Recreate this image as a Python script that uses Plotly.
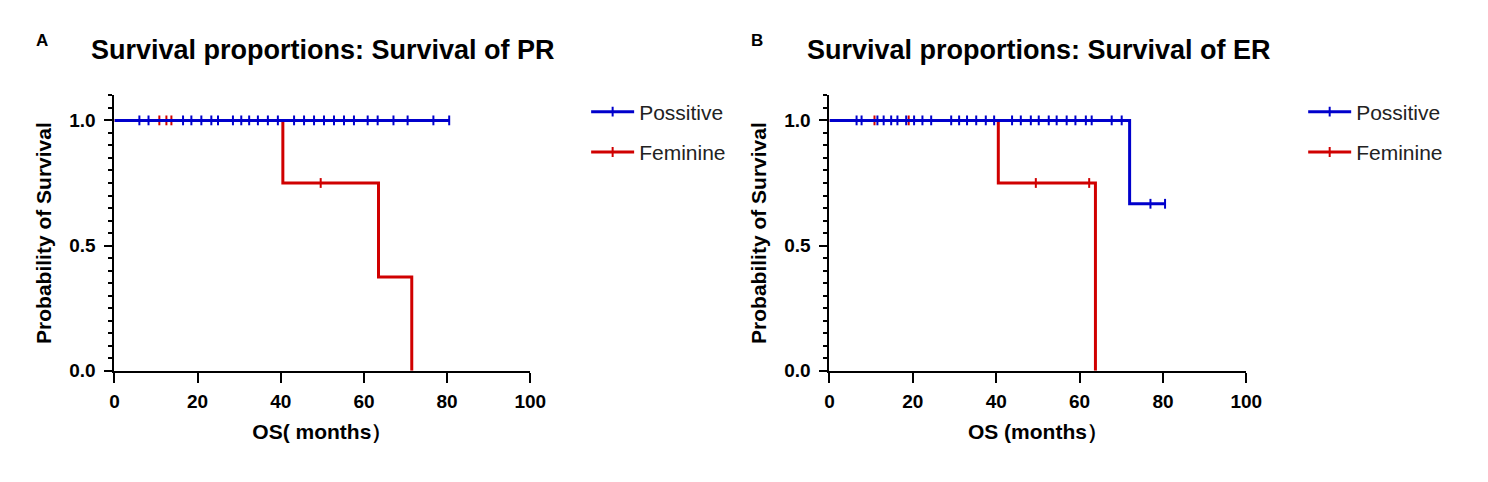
import plotly.graph_objects as go

# ---------------- data ----------------
# Panel A: Survival of PR
a_pos_time = [0, 80.5]
a_pos_surv = [1.0, 1.0]
a_pos_cens_t = [6.0, 8.2, 16.5, 18.5, 20.9, 23.3, 24.9, 28.5, 30.5, 32.4, 34.5, 36.9, 39.3,
                43.2, 45.6, 48.0, 50.4, 52.8, 55.2, 57.6, 60.9, 63.3, 67.1, 70.5, 76.7, 80.5]
a_pos_cens_s = [1.0] * len(a_pos_cens_t)

a_fem_time = [0, 40.5, 63.5, 71.5]
a_fem_surv = [1.0, 0.75, 0.375, 0.0]
a_fem_cens_t = [10.8, 12.5, 13.7, 49.6]
a_fem_cens_s = [1.0, 1.0, 1.0, 0.75]

# Panel B: Survival of ER
b_pos_time = [0, 72.0, 80.5]
b_pos_surv = [1.0, 0.667, 0.667]
b_pos_cens_t = [6.5, 7.7, 11.5, 13.0, 14.8, 16.3, 18.4, 20.3, 22.3, 24.4, 29.2, 31.1, 33.0,
                35.2, 37.5, 39.5, 43.8, 45.9, 48.3, 50.2, 52.6, 54.5, 56.9, 59.0, 61.5,
                62.9, 67.7, 70.1, 77.0, 80.5]
b_pos_cens_s = [1.0] * 28 + [0.667, 0.667]

b_fem_time = [0, 40.5, 63.8]
b_fem_surv = [1.0, 0.75, 0.0]
b_fem_cens_t = [10.8, 19.0, 49.5, 62.3]
b_fem_cens_s = [1.0, 1.0, 0.75, 0.75]

series_names = ["Possitive", "Feminine"]
x_ticks = [0, 20, 40, 60, 80, 100]
y_ticks = [0.0, 0.5, 1.0]

BLUE = "#0000CC"
RED = "#D00000"
FONT = "Liberation Sans, Arial, sans-serif"

# screen-pixel -> paper-fraction helpers (figure renders ~1471x474 offset by page margin)
def fx(sx):
    return (sx - 11.3) / 1471


def fy(sy):
    return 1 - (sy - 6.9) / 474


fig = go.Figure()


def add_panel(xa, ya, leg, pos, fem, tag):
    for (t, s, ct, cs), name, col in [(fem, series_names[1], RED), (pos, series_names[0], BLUE)]:
        fig.add_trace(go.Scatter(x=t, y=s, mode="lines", line=dict(color=col, width=3, shape="hv"),
                                 xaxis=xa, yaxis=ya, showlegend=False, cliponaxis=False,
                                 legendgroup=tag + name, hoverinfo="skip"))
        fig.add_trace(go.Scatter(x=ct, y=cs, mode="markers",
                                 marker=dict(symbol="line-ns", size=7, line=dict(color=col, width=2)),
                                 xaxis=xa, yaxis=ya, showlegend=False, cliponaxis=False,
                                 legendgroup=tag + name, hoverinfo="skip"))
    for name, col in [(series_names[0], BLUE), (series_names[1], RED)]:
        fig.add_trace(go.Scatter(x=[None], y=[None], mode="lines+markers", name=name,
                                 line=dict(color=col, width=3),
                                 marker=dict(symbol="line-ns", size=7, line=dict(color=col, width=2)),
                                 xaxis=xa, yaxis=ya, legend=leg, legendgroup=tag + name,
                                 showlegend=True))


add_panel("x", "y", "legend",
          (a_pos_time, a_pos_surv, a_pos_cens_t, a_pos_cens_s),
          (a_fem_time, a_fem_surv, a_fem_cens_t, a_fem_cens_s), "A")
add_panel("x2", "y2", "legend2",
          (b_pos_time, b_pos_surv, b_pos_cens_t, b_pos_cens_s),
          (b_fem_time, b_fem_surv, b_fem_cens_t, b_fem_cens_s), "B")

y_dom = [fy(372), fy(94.8)]

xaxis_common = dict(range=[0, 100], tickvals=x_ticks, ticks="outside", ticklen=10, tickwidth=2,
                    tickcolor="black", showline=True, linecolor="black", linewidth=2,
                    showgrid=False, zeroline=False, ticklabelstandoff=2,
                    tickfont=dict(family=FONT, size=19, color="black", weight="bold"),
                    fixedrange=True)
yaxis_common = dict(range=[0, 1.1], tickvals=y_ticks, tickformat=".1f", ticks="outside", ticklen=8,
                    tickwidth=2, tickcolor="black", showline=True, linecolor="black", linewidth=2,
                    showgrid=False, zeroline=False, domain=y_dom, ticklabelstandoff=5,
                    minor=dict(dtick=0.05, tick0=0, ticks="outside", ticklen=4, tickwidth=2,
                               tickcolor="black", showgrid=False),
                    tickfont=dict(family=FONT, size=19, color="black", weight="bold"),
                    title=dict(text="Probability of Survival", standoff=12,
                               font=dict(family=FONT, size=21, color="black", weight="bold")),
                    fixedrange=True)

xtitle_font = dict(family=FONT, size=21, color="black", weight="bold")
legend_common = dict(xanchor="left", yanchor="top",
                     font=dict(family=FONT, size=21, color="#222"), tracegroupgap=10,
                     itemwidth=43, bgcolor="rgba(0,0,0,0)")

fig.update_layout(
    width=1488, height=482,
    margin=dict(l=0, r=0, t=0, b=0),
    paper_bgcolor="white", plot_bgcolor="white",
    xaxis=dict(xaxis_common, domain=[fx(113), fx(530)], anchor="y",
               title=dict(text="OS( months）", standoff=14, font=xtitle_font)),
    yaxis=dict(yaxis_common, anchor="x"),
    xaxis2=dict(xaxis_common, domain=[fx(830), fx(1248)], anchor="y2",
                title=dict(text="OS (months）", standoff=14, font=xtitle_font)),
    yaxis2=dict(yaxis_common, anchor="x2"),
    legend=dict(legend_common, x=fx(586), y=fy(91)),
    legend2=dict(legend_common, x=fx(1305), y=fy(91)),
    showlegend=True,
    annotations=[
        dict(text="<b>A</b>", x=fx(40), y=fy(40), xref="paper", yref="paper",
             xanchor="center", yanchor="middle", showarrow=False,
             font=dict(family=FONT, size=17, color="black")),
        dict(text="<b>B</b>", x=fx(757), y=fy(40), xref="paper", yref="paper",
             xanchor="center", yanchor="middle", showarrow=False,
             font=dict(family=FONT, size=17, color="black")),
        dict(text="<b>Survival proportions: Survival of PR</b>", x=fx(322), y=fy(49),
             xref="paper", yref="paper", xanchor="center", yanchor="middle", showarrow=False,
             font=dict(family=FONT, size=27, color="black")),
        dict(text="<b>Survival proportions: Survival of ER</b>", x=fx(1040), y=fy(49),
             xref="paper", yref="paper", xanchor="center", yanchor="middle", showarrow=False,
             font=dict(family=FONT, size=27, color="black")),
    ],
)

fig.write_html("out.html")
